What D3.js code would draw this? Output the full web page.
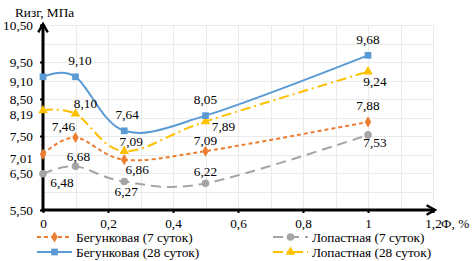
<!DOCTYPE html>
<html lang="ru">
<head>
<meta charset="UTF-8">
<title>Rизг</title>
<script src="https://d3js.org/d3.v7.min.js"></script>
<style>
  body { margin: 0; background: #fff; }
</style>
</head>
<body>
<div id="chart"></div>
<script>
// data
const fiber = [0, 0.1, 0.25, 0.5, 1];
const seriesNames = ["Бегунковая (7 суток)", "Бегунковая (28 суток)", "Лопастная (7 суток)", "Лопастная (28 суток)"];
const beg7 = [7.01, 7.46, 6.86, 7.09, 7.88];
const beg28 = [9.10, 9.10, 7.64, 8.05, 9.68];
const lop7 = [6.48, 6.68, 6.27, 6.22, 7.53];
const lop28 = [8.19, 8.10, 7.09, 7.89, 9.24];
const xTicks = [0, 0.2, 0.4, 0.6, 0.8, 1, 1.2];
const yTicks = [5.5, 6.5, 7.5, 8.5, 9.5, 10.5];

const width = 473, height = 261;
const FONT = "'Liberation Serif'";
const x = d3.scaleLinear().domain([0, 1.2]).range([43, 433]);
const y = d3.scaleLinear().domain([5.5, 10.5]).range([210, 25]);
const fmt = v => d3.format(".2f")(v).replace(".", ",");
const fmtX = v => String(v).replace(".", ",");

const svg = d3.select("#chart").append("svg")
    .attr("width", width).attr("height", height)
    .style("font-family", FONT).style("font-size", "13.3px");

function label(sel) {
  return sel.style("font-family", FONT).style("font-size", "13.3px").attr("fill", "#000");
}

// grid
const grid = svg.append("g").attr("stroke", "#ebebeb").attr("stroke-width", 1);
grid.selectAll("line.h").data(d3.range(6, 10.51, 0.5)).join("line")
    .attr("x1", x(0)).attr("x2", x(1.2))
    .attr("y1", d => Math.round(y(d)) + 0.5).attr("y2", d => Math.round(y(d)) + 0.5);
grid.selectAll("line.v").data(d3.range(1, 13).map(i => i / 10)).join("line")
    .attr("y1", y(5.5)).attr("y2", y(10.5))
    .attr("x1", d => Math.round(x(d)) + 0.5).attr("x2", d => Math.round(x(d)) + 0.5);

// axes
const yAxis = svg.append("g").attr("transform", `translate(${x(0)},0)`)
    .call(d3.axisLeft(y).tickValues(yTicks).tickFormat(fmt).tickSize(3).tickPadding(7));
const xAxis = svg.append("g").attr("transform", `translate(0,${y(5.5)})`)
    .call(d3.axisBottom(x).tickValues(xTicks).tickFormat(fmtX).tickSize(3).tickPadding(6));
[yAxis, xAxis].forEach(a => {
  a.attr("font-family", null).attr("font-size", null);
  a.select(".domain").remove();
  a.selectAll(".tick line").attr("stroke", "#000").attr("stroke-width", 2);
  label(a.selectAll("text"));
});

svg.append("defs").append("marker")
    .attr("id", "arrow").attr("viewBox", "0 0 10 10").attr("refX", 8).attr("refY", 5)
    .attr("markerWidth", 4).attr("markerHeight", 4).attr("orient", "auto")
  .append("path").attr("d", "M1,1 L8,5 L1,9").attr("fill", "none").attr("stroke", "#000").attr("stroke-width", 2);

svg.append("line").attr("x1", x(0)).attr("x2", x(0)).attr("y1", y(5.5) + 1.5).attr("y2", y(10.5) - 1)
    .attr("stroke", "#000").attr("stroke-width", 3).attr("marker-end", "url(#arrow)");
svg.append("line").attr("x1", x(0) - 1.5).attr("x2", x(1.2) + 2).attr("y1", y(5.5)).attr("y2", y(5.5))
    .attr("stroke", "#000").attr("stroke-width", 3).attr("marker-end", "url(#arrow)");

label(svg.append("text").attr("x", 15).attr("y", 17).text("Rизг, МПа"));
label(svg.append("text").attr("x", 441).attr("y", 228).text("Ф, %"));

// series
const series = [
  { name: seriesNames[0], values: beg7, color: "#ED7D31", dash: "4,3", sym: d3.symbolDiamond, size: 36,
    labels: [[-10, 4.5, "end"], [-12, -11], [13, 10], [0, -11], [0, -16]] },
  { name: seriesNames[1], values: beg28, color: "#5B9BD5", dash: null, sym: d3.symbolSquare, size: 45,
    labels: [[-10, 4.5, "end"], [4.5, -16], [3, -16], [0, -16], [0, -16]] },
  { name: seriesNames[2], values: lop7, color: "#A5A5A5", dash: "10,6", sym: d3.symbolCircle, size: 45,
    labels: [[19, 9], [3, -10], [2, 10], [0, -12], [7, 8]] },
  { name: seriesNames[3], values: lop28, color: "#FFC000", dash: "10,4,2,4", sym: d3.symbolTriangle, size: 40,
    labels: [[-10, 4.5, "end"], [10, -10], [7, -10], [18, 5], [7, 10]] }
];

const line = d3.line().x(d => x(d[0])).y(d => y(d[1])).curve(d3.curveCardinal.tension(0));

const drawOrder = [2, 0, 3, 1];
drawOrder.forEach(i => {
  const s = series[i];
  const pts = fiber.map((f, k) => [f, s.values[k]]);
  svg.append("path").datum(pts).attr("d", line)
      .attr("fill", "none").attr("stroke", s.color).attr("stroke-width", 2)
      .attr("stroke-dasharray", s.dash);
  svg.selectAll(null).data(pts).join("path")
      .attr("transform", d => `translate(${x(d[0])},${y(d[1])})`)
      .attr("d", d3.symbol(s.sym, s.size)).attr("fill", s.color);
});

series.forEach(s => {
  label(svg.selectAll(null).data(fiber.map((f, k) => [f, s.values[k], s.labels[k]])).join("text")
      .attr("x", d => x(d[0]) + d[2][0])
      .attr("y", d => y(d[1]) + d[2][1] + 4.5)
      .attr("text-anchor", d => d[2][2] || "middle")
      .text(d => fmt(d[1])));
});

// legend
const legendPos = [[37, 237], [37, 252], [273, 237], [273, 252]];
series.forEach((s, i) => {
  const [lx, ly] = legendPos[i];
  const g = svg.append("g").attr("transform", `translate(${lx},${ly})`);
  g.append("line").attr("x1", 0).attr("x2", 35).attr("y1", 0).attr("y2", 0)
      .attr("stroke", s.color).attr("stroke-width", 2).attr("stroke-dasharray", s.dash);
  g.append("path").attr("transform", "translate(17.5,0)").attr("d", d3.symbol(s.sym, s.size)).attr("fill", s.color);
  label(g.append("text").attr("x", 39).attr("y", 4.5).text(s.name));
});
</script>
</body>
</html>
